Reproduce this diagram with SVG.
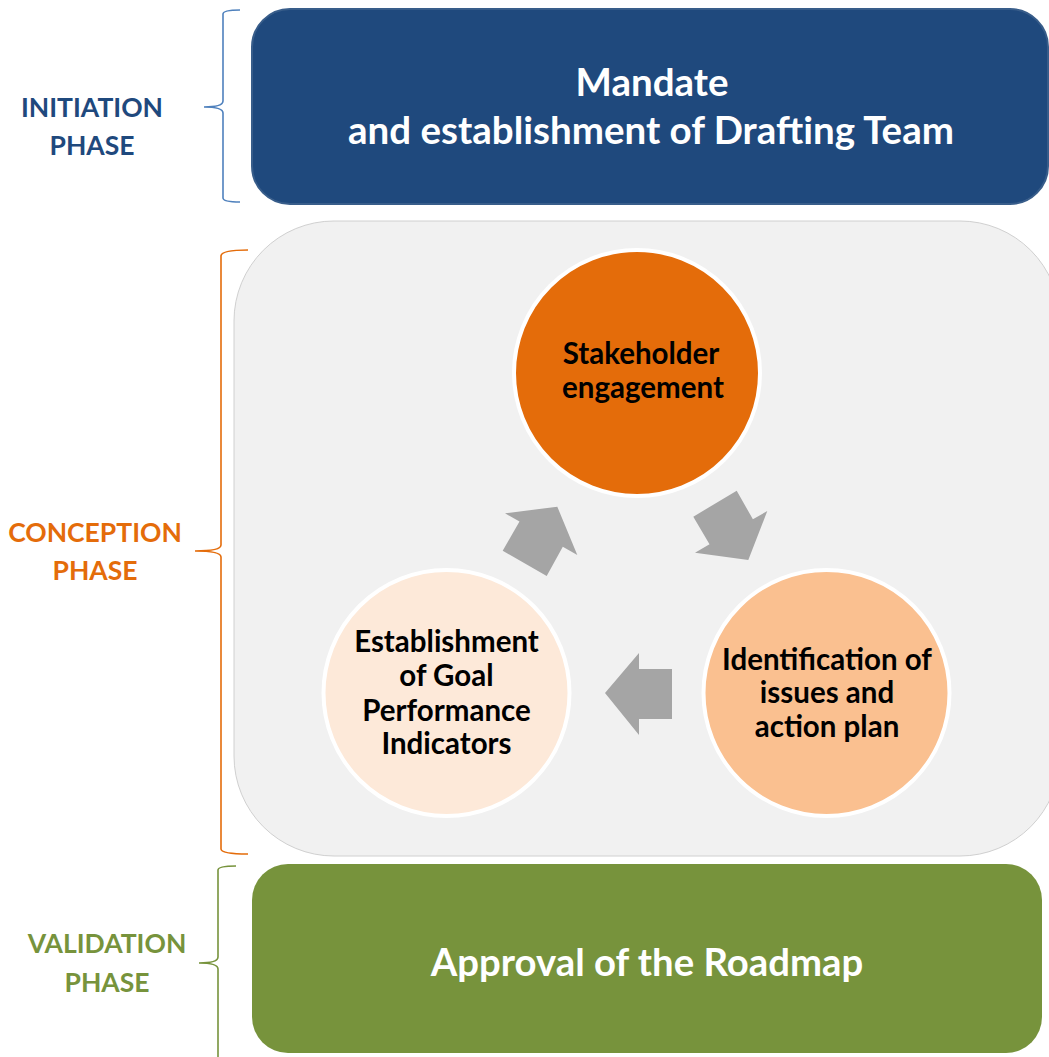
<svg xmlns="http://www.w3.org/2000/svg" width="1049" height="1057" viewBox="0 0 1049 1057">
<style>
  text { font-family: Lato, "Open Sans", "Liberation Sans", sans-serif; font-weight: bold; text-anchor: middle; }
  .phase { font-size: 26.5px; }
  .circ { font-size: 29.5px; fill: #000; }
  .box { fill: #fff; }
  .brace { fill: none; stroke-width: 1.6; }
  .arrow { fill: #A5A5A5; }
  .node circle { stroke: #fff; stroke-width: 4; }
</style>
<rect width="1049" height="1057" fill="#fff"/>

<!-- phase labels and braces -->
<g id="initiation-label">
  <text class="phase" x="92" y="117" fill="#1F497D">INITIATION</text>
  <text class="phase" x="92" y="155" fill="#1F497D">PHASE</text>
  <path class="brace" stroke="#4F81BD" d="M240,10 Q223,10 223,14 L223,101 Q223,107 204,107 Q223,107 223,113 L223,198 Q223,202 240,202"/>
</g>
<g id="conception-label">
  <text class="phase" x="95" y="542" fill="#E46C0A">CONCEPTION</text>
  <text class="phase" x="95" y="580" fill="#E46C0A">PHASE</text>
  <path class="brace" stroke="#E46C0A" d="M248,250 Q221,250 221,256 L221,545 Q221,551 195,551 Q221,551 221,557 L221,849 Q221,854 248,854"/>
</g>
<g id="validation-label">
  <text class="phase" x="107" y="953" fill="#77933C">VALIDATION</text>
  <text class="phase" x="107" y="992" fill="#77933C">PHASE</text>
  <path class="brace" stroke="#77933C" d="M236,866 Q218,866 218,870 L218,957 Q218,963 199,963 Q218,963 218,969 L218,1060"/>
</g>

<!-- top box -->
<g id="mandate">
  <rect x="252" y="9" width="796" height="195" rx="38" fill="#1F497D" stroke="#385D8A" stroke-width="2"/>
  <text class="box" x="652" y="96" font-size="38.5">Mandate</text>
  <text class="box" x="651" y="144" font-size="38.5">and establishment of Drafting Team</text>
</g>

<!-- gray container -->
<g id="conception">
  <rect x="234" y="221" width="826" height="635" rx="100" fill="#F1F1F1" stroke="#D0D0D0" stroke-width="1"/>
</g>

<!-- circles -->
<g id="stakeholder" class="node">
  <circle cx="637" cy="373" r="123" fill="#E46C0A"/>
  <text class="circ" x="641" y="364">Stakeholder</text>
  <text class="circ" x="643" y="398">engagement</text>
</g>
<g id="identification" class="node">
  <circle cx="826.5" cy="693" r="123" fill="#FAC090"/>
  <text class="circ" x="827" y="670">Identification of</text>
  <text class="circ" x="827" y="703">issues and</text>
  <text class="circ" x="827" y="737">action plan</text>
</g>
<g id="establishment" class="node">
  <circle cx="446.5" cy="693" r="123" fill="#FDE9D9"/>
  <text class="circ" x="446.5" y="652">Establishment</text>
  <text class="circ" x="446.5" y="686">of Goal</text>
  <text class="circ" x="446.5" y="721">Performance</text>
  <text class="circ" x="446.5" y="754">Indicators</text>
</g>

<!-- connectors -->
<g id="connectors">
  <polygon class="arrow" points="748.3,560 695,552.7 709.5,544.3 693.3,516.7 736.7,490.7 752.9,519.3 767.3,511"/>
  <polygon class="arrow" points="605,693 639,653 639,669 672,669 672,719 639,719 639,735"/>
  <polygon class="arrow" points="557.3,506.7 505,513.3 519.5,521.6 502.7,550.7 546.7,576 562.8,546.7 577.3,555"/>
</g>

<!-- bottom box -->
<g id="approval">
  <rect x="252" y="864" width="790" height="189" rx="36" fill="#77933C"/>
  <text class="box" x="647" y="976" font-size="38.3">Approval of the Roadmap</text>
</g>
</svg>
